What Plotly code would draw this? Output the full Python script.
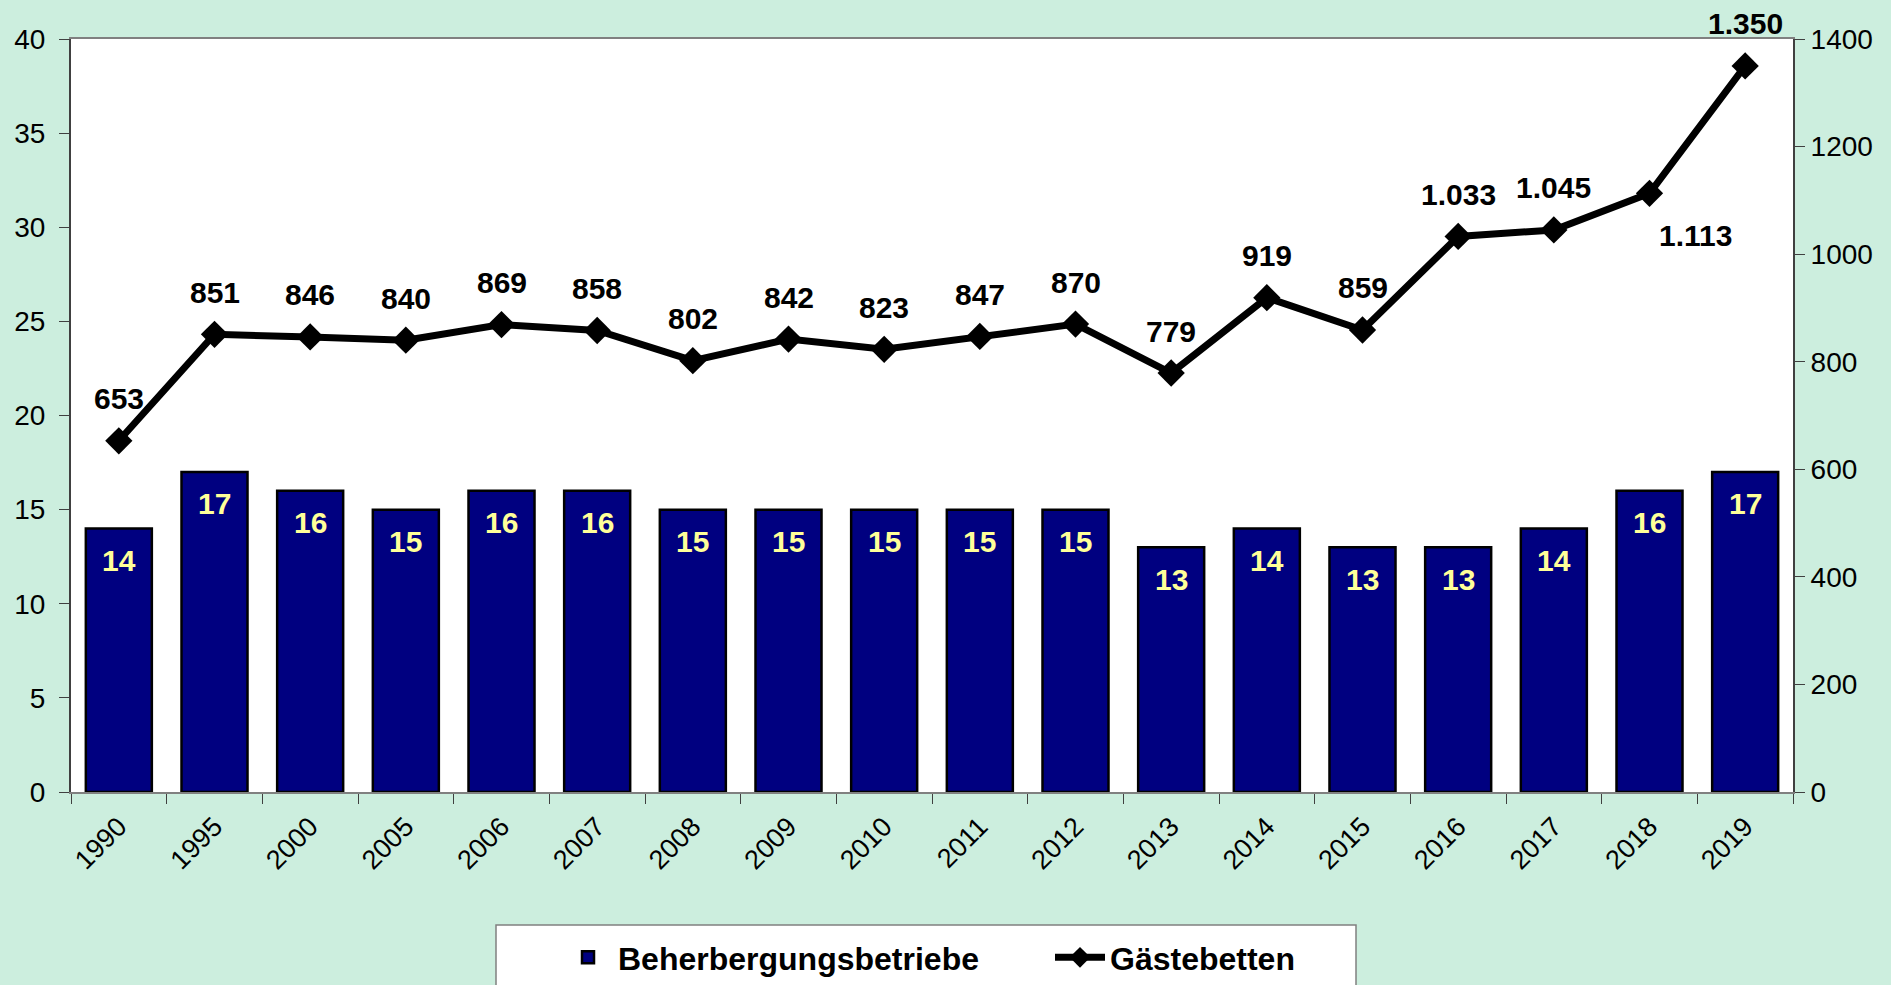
import plotly.graph_objects as go

years = ["1990", "1995", "2000", "2005", "2006", "2007", "2008", "2009", "2010",
         "2011", "2012", "2013", "2014", "2015", "2016", "2017", "2018", "2019"]
betriebe = [14, 17, 16, 15, 16, 16, 15, 15, 15, 15, 15, 13, 14, 13, 13, 14, 16, 17]
betten = [653, 851, 846, 840, 869, 858, 802, 842, 823, 847, 870, 779, 919, 859,
          1033, 1045, 1113, 1350]
betten_labels = ["653", "851", "846", "840", "869", "858", "802", "842", "823", "847",
                 "870", "779", "919", "859", "1.033", "1.045", "1.113", "1.350"]

FONT = "Arial, Liberation Sans, sans-serif"
W, H = 1891, 985

fig = go.Figure()
fig.add_trace(go.Bar(
    x=years, y=betriebe, name="Beherbergungsbetriebe",
    marker=dict(color="#000080", line=dict(color="#000000", width=2.5)),
    width=0.69,
))
fig.add_trace(go.Scatter(
    x=years, y=betten, name="Gästebetten", yaxis="y2", mode="lines+markers",
    line=dict(color="#000000", width=7),
    marker=dict(symbol="diamond", size=21, color="#000000"),
))

annotations = []
for i, v in enumerate(betriebe):
    annotations.append(dict(x=i, y=v, xref="x", yref="y", text="<b>%d</b>" % v,
                            showarrow=False, yshift=-32,
                            font=dict(family=FONT, size=30, color="#FFFF99")))
for i, (v, lab) in enumerate(zip(betten, betten_labels)):
    xs, ys = 0, 42
    if lab == "1.113":
        xs, ys = 46, -42
    annotations.append(dict(x=i, y=v, xref="x", yref="y2", text="<b>%s</b>" % lab,
                            showarrow=False, xshift=xs, yshift=ys,
                            font=dict(family=FONT, size=30, color="#000000")))

fig.update_layout(
    width=W, height=H,
    paper_bgcolor="#CCEEDE", plot_bgcolor="#FFFFFF",
    margin=dict(l=71, r=98, t=39, b=193),
    font=dict(family=FONT, size=20, color="#000000"),
    showlegend=True,
    legend=dict(orientation="h", xref="container", yref="container",
                x=558 / W, xanchor="left", y=1 - 930 / H, yanchor="top",
                bgcolor="rgba(0,0,0,0)", borderwidth=0,
                font=dict(family=FONT, size=32, color="#000000", weight="bold"),
                entrywidth=427, itemwidth=50, traceorder="normal"),
    shapes=[dict(type="rect", xref="paper", yref="paper", x0=(496 - 71) / 1722,
                 x1=(1356 - 71) / 1722, y0=-(925 - 792) / 753, y1=-(1000 - 792) / 753,
                 fillcolor="#FFFFFF", line=dict(color="#808080", width=1.5),
                 layer="below")],
    xaxis=dict(type="category", range=[-0.5, len(years) - 0.5], tickangle=-45,
               ticks="outside", ticklen=10, ticklabelstandoff=6,
               tickson="boundaries", showline=True, linecolor="#808080", linewidth=2,
               mirror=True, tickcolor="#404040", showgrid=False,
               tickfont=dict(family=FONT, size=27)),
    yaxis=dict(range=[0, 40], dtick=5, ticks="outside", ticklen=10, showgrid=False,
               ticklabelstandoff=8,
               showline=True, linecolor="#404040", linewidth=2, tickcolor="#404040",
               zeroline=False, tickfont=dict(family=FONT, size=28)),
    yaxis2=dict(range=[0, 1400], dtick=200, overlaying="y", side="right",
                ticks="outside", ticklen=10, showgrid=False, showline=True,
                linecolor="#404040", linewidth=2, tickcolor="#404040", zeroline=False,
                tickfont=dict(family=FONT, size=28)),
    annotations=annotations,
)

fig.write_html("out.html", config={"displayModeBar": False},
               post_script="document.body.style.margin='0';")
